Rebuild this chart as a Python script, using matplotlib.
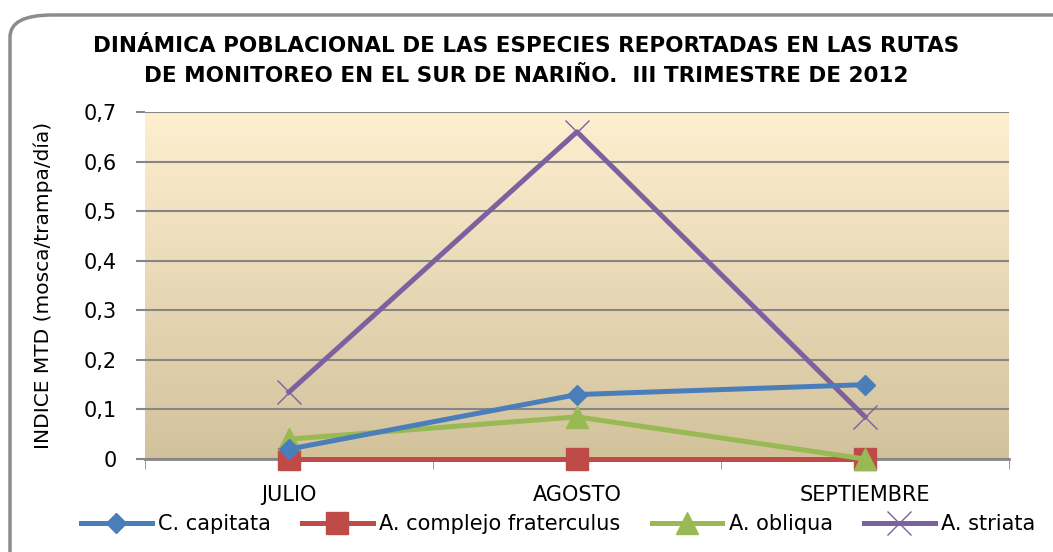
import matplotlib.pyplot as plt
import numpy as np
from matplotlib.patches import FancyBboxPatch
from matplotlib.lines import Line2D

months = ["JULIO", "AGOSTO", "SEPTIEMBRE"]
capitata = [0.02, 0.13, 0.15]
fraterculus = [0.0, 0.0, 0.0]
obliqua = [0.04, 0.085, 0.0]
striata = [0.135, 0.66, 0.085]
yticks = [0, 0.1, 0.2, 0.3, 0.4, 0.5, 0.6, 0.7]
ytick_labels = ["0", "0,1", "0,2", "0,3", "0,4", "0,5", "0,6", "0,7"]

BLUE = "#4A7EBB"
RED = "#BE4B48"
GREEN = "#98B954"
PURPLE = "#7D60A0"

plt.rcParams['font.family'] = ['DejaVu Sans']

W, H = 1053, 552
fig = plt.figure(figsize=(W / 100, H / 100), dpi=100)

# rounded outer frame
frame = FancyBboxPatch((10 / W, -30 / H), 1.1, (H - 15 + 30) / H,
                       boxstyle="round,pad=0,rounding_size=0.04",
                       transform=fig.transFigure, facecolor="white",
                       edgecolor="#8c8c8c", linewidth=2.5, zorder=-5)
fig.patches.append(frame)

ax = fig.add_axes([145 / W, 1 - 459 / H, (1009 - 145) / W, (459 - 112) / H])
ax.set_facecolor("none")
ax.set_zorder(2)

# gradient background
grad = np.linspace(0, 1, 256).reshape(-1, 1)
top = np.array([254, 239, 208]) / 255
bot = np.array([210, 194, 156]) / 255
img = top + (bot - top) * grad[:, :, None]
ax.imshow(img, extent=[-0.5, 2.5, 0, 0.7], aspect="auto", zorder=0)

x = np.arange(len(months))
ax.plot(x, striata, color=PURPLE, lw=3.6, marker="x", ms=17, mew=1, zorder=3)
ax.plot(x, fraterculus, color=RED, lw=3.6, marker="s", ms=16, zorder=3,
        clip_on=False)
ax.plot(x, obliqua, color=GREEN, lw=3.6, marker="^", ms=16, zorder=4,
        clip_on=False)
ax.plot(x, capitata, color=BLUE, lw=3.6, marker="D", ms=10, zorder=5)

ax.set_xlim(-0.5, 2.5)
ax.set_ylim(0, 0.7)
ax.set_yticks(yticks)
ax.set_yticklabels(ytick_labels, fontsize=15)
ax.yaxis.grid(True, color="#868686", lw=1.5, zorder=1)
ax.set_axisbelow(False)
ax.set_xticks(x)
ax.set_xticklabels(months, fontsize=15)
ax.set_xticks([-0.5, 0.5, 1.5, 2.5], minor=True)
ax.tick_params(axis="x", which="major", length=0, pad=19)
ax.tick_params(axis="x", which="minor", length=7, color="#868686")
ax.tick_params(axis="y", length=6.5, width=1.5, color="#868686", pad=14)
for s in ["top", "right", "left"]:
    ax.spines[s].set_visible(False)
ax.spines["bottom"].set_color("#868686")
ax.spines["bottom"].set_linewidth(2)

ax.set_ylabel("INDICE MTD (mosca/trampa/día)", fontsize=14.5, labelpad=22)

fig.text(0.5, 1 - 61 / H,
         "DINÁMICA POBLACIONAL DE LAS ESPECIES REPORTADAS EN LAS RUTAS\n"
         "DE MONITOREO EN EL SUR DE NARIÑO.  III TRIMESTRE DE 2012",
         ha="center", va="center", fontsize=15.5, fontweight="bold",
         linespacing=1.6)

handles = [
    Line2D([], [], color=BLUE, lw=3.6, marker="D", ms=10),
    Line2D([], [], color=RED, lw=3.6, marker="s", ms=16),
    Line2D([], [], color=GREEN, lw=3.6, marker="^", ms=16),
    Line2D([], [], color=PURPLE, lw=3.6, marker="x", ms=17, mew=1),
]
labels = ["C. capitata", "A. complejo fraterculus", "A. obliqua", "A. striata"]
fig.legend(handles, labels, loc="center", bbox_to_anchor=(0.53, 1 - 524 / H),
           ncol=4, frameon=False, fontsize=15, handlelength=3.4,
           handletextpad=0.3, columnspacing=1.5)

fig.savefig("out.png", dpi=100)
